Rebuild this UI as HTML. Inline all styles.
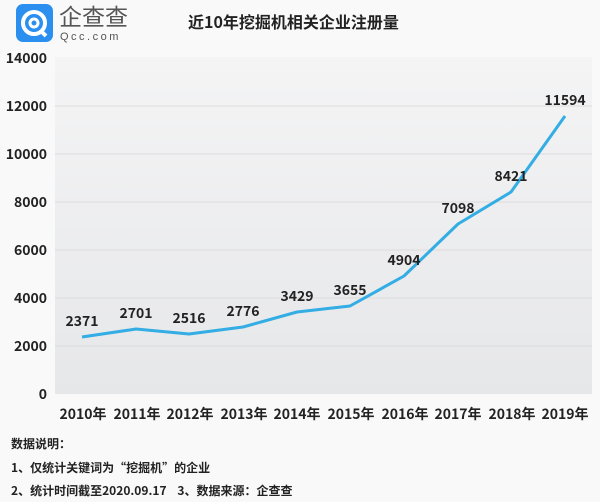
<!DOCTYPE html>
<html><head><meta charset="utf-8"><style>
body{margin:0;width:600px;height:502px;background:#f9f9f9;overflow:hidden}
text{font-family:"Noto Sans CJK SC",sans-serif}
</style></head><body>
<svg width="600" height="502" xmlns="http://www.w3.org/2000/svg" style="position:absolute;left:0;top:0">
<defs><linearGradient id="g" x1="0" y1="0" x2="0" y2="1"><stop offset="0" stop-color="#f4f4f5"/><stop offset="1" stop-color="#e6e7e9"/></linearGradient></defs>
<rect x="16" y="4" width="37" height="38" rx="7" fill="#2b8ff0"/>
<circle cx="34" cy="23" r="11" fill="none" stroke="#fff" stroke-width="4"/>
<circle cx="34" cy="23" r="4" fill="none" stroke="#fff" stroke-width="3"/>
<line x1="40" y1="30" x2="46" y2="36" stroke="#fff" stroke-width="4"/>
<text x="59" y="25" font-size="23" fill="#555">企查查</text>
<text x="60" y="40" font-size="11" fill="#555" letter-spacing="2.5" style="font-family:'Liberation Sans',sans-serif">Qcc.com</text>
<text x="188" y="28" font-size="16" font-weight="bold" fill="#222">近10年挖掘机相关企业注册量</text>
<rect x="55" y="57" width="537" height="337" fill="url(#g)"/>
<g stroke="#dcdcdc" stroke-width="1">
<line x1="55" y1="106" x2="592" y2="106"/><line x1="55" y1="154" x2="592" y2="154"/><line x1="55" y1="202" x2="592" y2="202"/><line x1="55" y1="250" x2="592" y2="250"/><line x1="55" y1="298" x2="592" y2="298"/><line x1="55" y1="346" x2="592" y2="346"/>
</g>
<g font-size="14" font-weight="bold" fill="#222" text-anchor="end">
<text x="47" y="63">14000</text><text x="47" y="111">12000</text><text x="47" y="159">10000</text><text x="47" y="207">8000</text><text x="47" y="255">6000</text><text x="47" y="303">4000</text><text x="47" y="351">2000</text><text x="47" y="399">0</text>
</g>
<polyline fill="none" stroke="#33ade3" stroke-width="3" stroke-linejoin="round" points="82,337 136,329 189,334 243,327 297,312 350,306 404,276 458,224 511,192 565,116"/>
<g font-size="14" font-weight="bold" fill="#222" text-anchor="middle">
<text x="82" y="326">2371</text><text x="136" y="318">2701</text><text x="189" y="323">2516</text><text x="243" y="316">2776</text><text x="297" y="301">3429</text><text x="350" y="295">3655</text><text x="404" y="265">4904</text><text x="458" y="213">7098</text><text x="511" y="181">8421</text><text x="565" y="105">11594</text>
</g>
<g font-size="14" font-weight="bold" fill="#222" text-anchor="middle">
<text x="83" y="419">2010年</text><text x="137" y="419">2011年</text><text x="190" y="419">2012年</text><text x="244" y="419">2013年</text><text x="297" y="419">2014年</text><text x="351" y="419">2015年</text><text x="405" y="419">2016年</text><text x="458" y="419">2017年</text><text x="512" y="419">2018年</text><text x="565" y="419">2019年</text>
</g>
<g font-size="12" font-weight="bold" fill="#222">
<text x="11" y="448">数据说明：</text>
<text x="11" y="472">1、仅统计关键词为“挖掘机”的企业</text>
<text x="11" y="495" xml:space="preserve" style="white-space:pre">2、统计时间截至2020.09.17    3、数据来源：企查查</text>
</g>
</svg>
</body></html>
